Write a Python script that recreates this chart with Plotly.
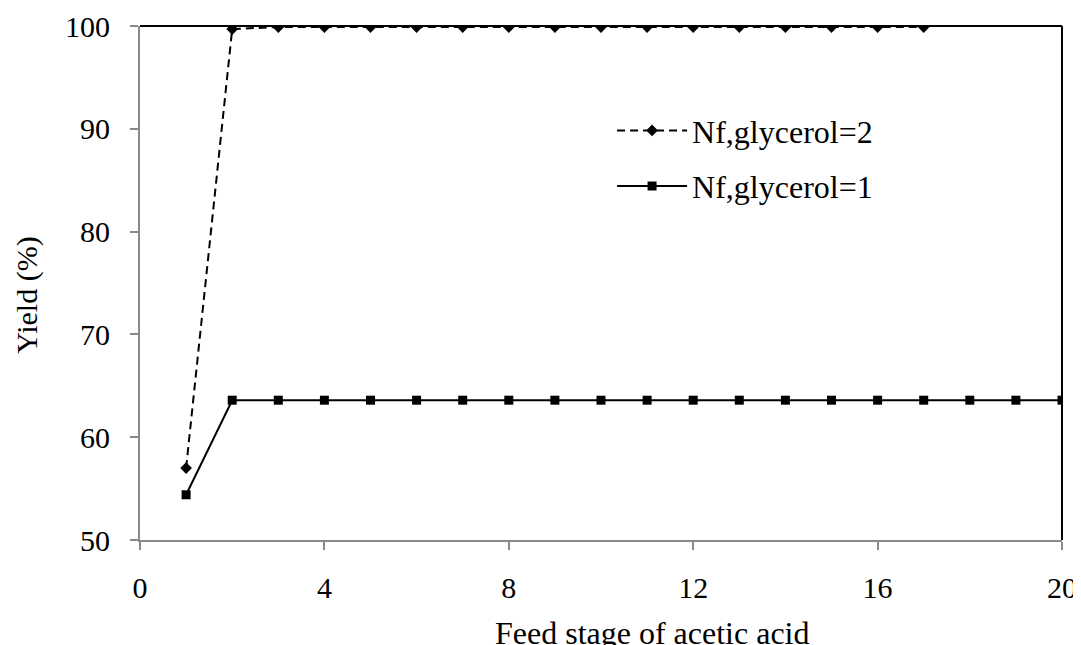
import plotly.graph_objects as go

# Dados
estagios_2 = list(range(1, 18))
rendimento_2 = [57.0] + [99.7] + [99.9] * 15

estagios_1 = list(range(1, 21))
rendimento_1 = [54.4] + [63.6] * 19

titulo_x = "Feed stage of acetic acid"
titulo_y = "Yield (%)"

fonte = "Times New Roman, Liberation Serif, serif"
cinza = "#898989"

fig = go.Figure()

fig.add_trace(go.Scatter(
    x=estagios_2, y=rendimento_2,
    mode="lines+markers",
    name="Nf,glycerol=2",
    legendgroup="g2",
    line=dict(color="black", width=2, dash="8px,5px"),
    marker=dict(symbol="diamond", size=9, color="black"),
))

fig.add_trace(go.Scatter(
    x=estagios_1, y=rendimento_1,
    mode="lines+markers",
    name="Nf,glycerol=1",
    legendgroup="g1",
    line=dict(color="black", width=2),
    marker=dict(symbol="square", size=9, color="black"),
))

# a página tem margem de 8 px, por isso a figura é 8 px menor
fig.update_layout(
    width=1073, height=637,
    margin=dict(l=132, r=19, t=18, b=105),
    plot_bgcolor="white",
    paper_bgcolor="white",
    font=dict(family=fonte, size=30, color="black"),
    showlegend=True,
    legend=dict(
        x=0.512, y=0.85, xanchor="left", yanchor="top",
        bgcolor="rgba(0,0,0,0)",
        font=dict(family=fonte, size=32),
        itemwidth=70,
        tracegroupgap=11,
    ),
    xaxis=dict(
        range=[0, 20], tick0=0, dtick=4,
        automargin=False,
        showgrid=False, zeroline=False,
        showline=True, linecolor=cinza, linewidth=2,
        ticks="outside", ticklen=8, tickcolor=cinza, tickwidth=2,
        ticklabelstandoff=12,
        tickfont=dict(family=fonte, size=30),
    ),
    yaxis=dict(
        range=[50, 100], tick0=50, dtick=10,
        automargin=False,
        showgrid=False, zeroline=False,
        showline=True, linecolor=cinza, linewidth=2,
        ticks="outside", ticklen=8, tickcolor=cinza, tickwidth=2,
        ticklabelstandoff=14,
        tickfont=dict(family=fonte, size=30),
    ),
)

# títulos dos eixos (deslocados como no original)
fig.add_annotation(text=titulo_x, xref="paper", yref="paper", x=0.556, y=0,
                   xanchor="center", yanchor="middle", yshift=-93,
                   showarrow=False, font=dict(family=fonte, size=32))
fig.add_annotation(text=titulo_y, xref="paper", yref="paper", x=0, y=0.475,
                   xanchor="center", yanchor="middle", xshift=-113,
                   textangle=-90, showarrow=False, font=dict(family=fonte, size=30))

# bordas superior e direita em preto
fig.add_shape(type="line", xref="paper", yref="paper", x0=0, x1=1, y0=1, y1=1,
              line=dict(color="black", width=2), layer="below")
fig.add_shape(type="line", xref="paper", yref="paper", x0=1, x1=1, y0=0, y1=1,
              line=dict(color="black", width=2), layer="below")

fig.write_html("out.html")
